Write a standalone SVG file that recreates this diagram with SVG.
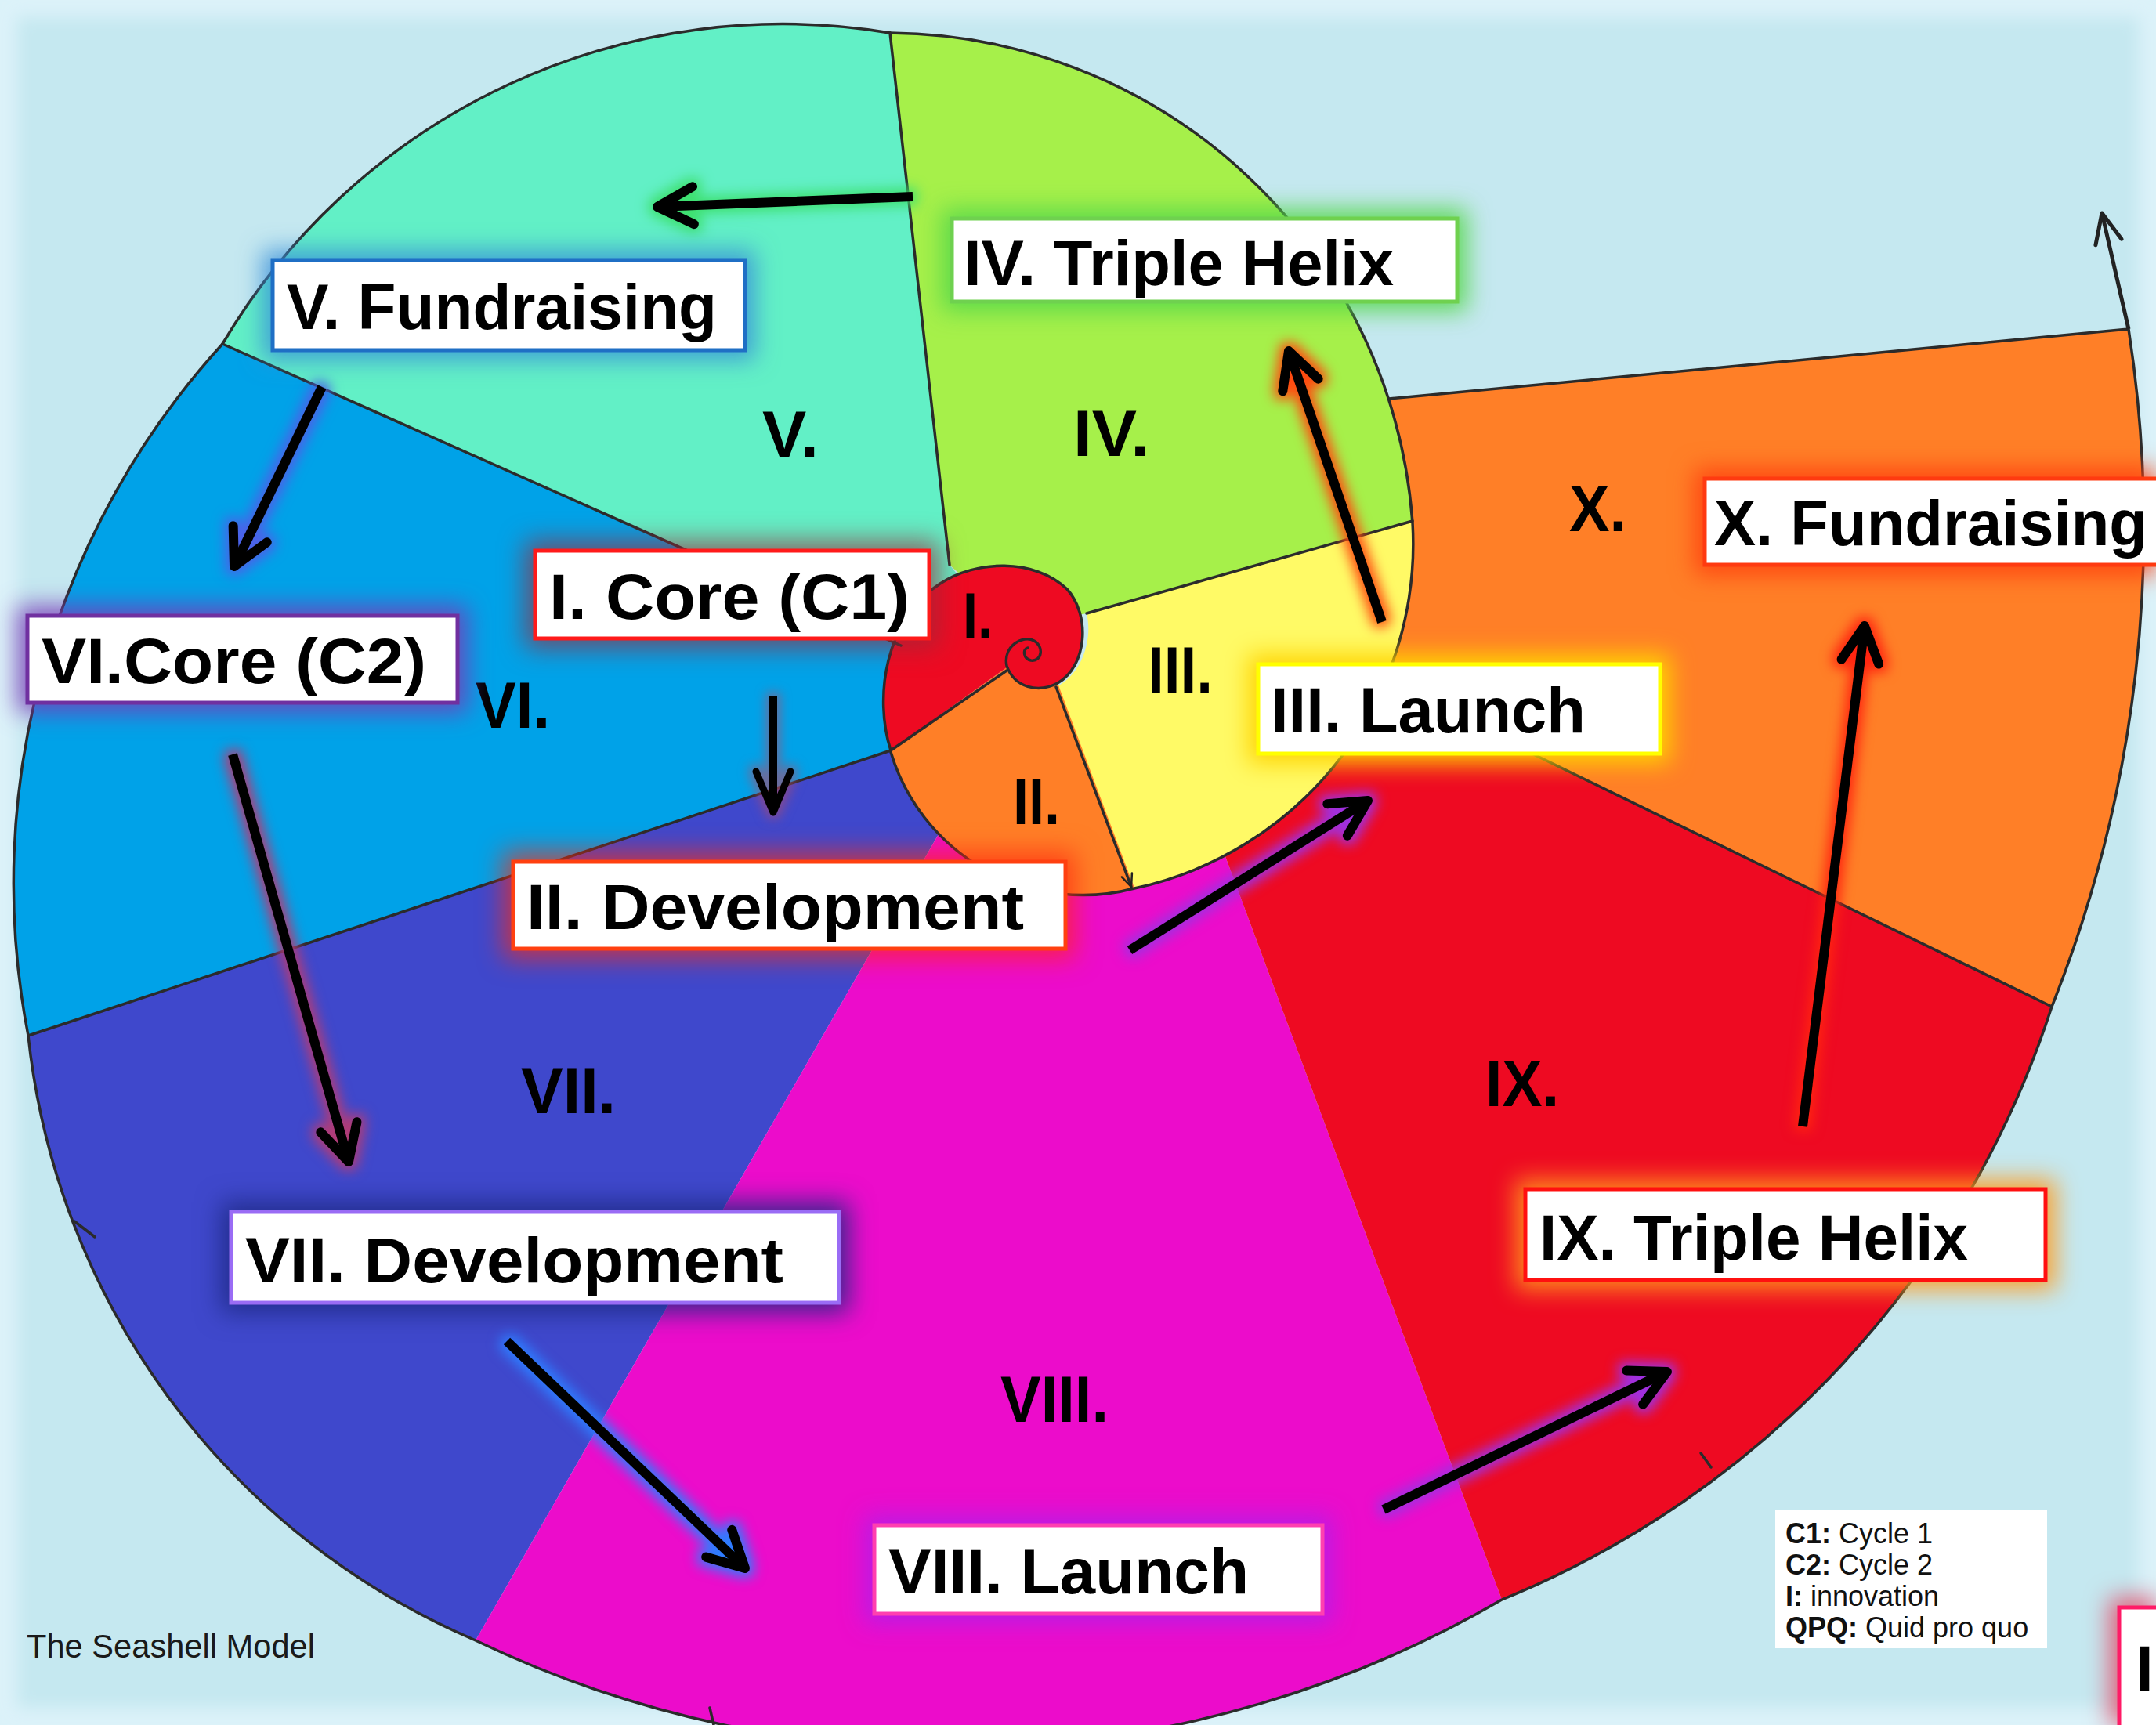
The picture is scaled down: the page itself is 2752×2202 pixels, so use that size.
<svg xmlns="http://www.w3.org/2000/svg" width="2752" height="2202" viewBox="0 0 2752 2202">
  <defs>
    <style>
      .outline{fill:none;stroke:#2b2b2b;stroke-width:3.5;stroke-linejoin:round;stroke-linecap:round}
      .box{fill:#ffffff;stroke-width:5}
      .lbl{font-family:"Liberation Sans",Arial,sans-serif;font-weight:bold;font-size:82px;fill:#000}
      .num{font-family:"Liberation Sans",Arial,sans-serif;font-weight:bold;font-size:84px;fill:#000}
      .arrow{fill:none;stroke:#000;stroke-width:12;marker-end:url(#head)}
      .arrow.narrow{stroke-width:10;marker-end:url(#headNarrow)}
      .legend{font-family:"Liberation Sans",Arial,sans-serif;font-size:36px;fill:#111}
      .legend .k{font-weight:bold}
      .caption{font-family:"Liberation Sans",Arial,sans-serif;font-size:42px;fill:#1a1a1a}
    </style>
    <marker id="head" markerUnits="userSpaceOnUse" orient="auto" overflow="visible" markerWidth="1" markerHeight="1" refX="0" refY="0">
      <path d="M -46,-24 L 0,0 L -46,24" fill="none" stroke="#000" stroke-width="12" stroke-linecap="round" stroke-linejoin="round"/>
    </marker>
    <marker id="headNarrow" markerUnits="userSpaceOnUse" orient="auto" overflow="visible" markerWidth="1" markerHeight="1" refX="0" refY="0">
      <path d="M -52,-22 L 0,0 L -52,22" fill="none" stroke="#000" stroke-width="9" stroke-linecap="round" stroke-linejoin="round"/>
    </marker>
    <marker id="headThin" markerUnits="userSpaceOnUse" orient="auto" overflow="visible" markerWidth="1" markerHeight="1" refX="0" refY="0">
      <path d="M -38,-17 L 0,0 L -38,17" fill="none" stroke="#222" stroke-width="5" stroke-linecap="round" stroke-linejoin="round"/>
    </marker>
    <marker id="headTiny" markerUnits="userSpaceOnUse" orient="auto" overflow="visible" markerWidth="1" markerHeight="1" refX="0" refY="0">
      <path d="M -16,-7 L 0,0 L -16,7" fill="none" stroke="#222" stroke-width="2.5" stroke-linecap="round"/>
    </marker>
    <filter id="soft" filterUnits="userSpaceOnUse" x="-50" y="-50" width="2852" height="2302">
      <feGaussianBlur stdDeviation="10"/>
    </filter>

    <!-- label glows -->
    <filter id="bg-green" filterUnits="userSpaceOnUse" x="0" y="0" width="2752" height="2202" color-interpolation-filters="sRGB">
      <feMorphology in="SourceAlpha" operator="dilate" radius="10" result="d"/>
      <feGaussianBlur in="d" stdDeviation="15" result="b"/>
      <feFlood flood-color="#55d84a" flood-opacity="0.9"/>
      <feComposite in2="b" operator="in" result="g"/>
      <feMerge><feMergeNode in="g"/><feMergeNode in="SourceGraphic"/></feMerge>
    </filter>
    <filter id="bg-blue" filterUnits="userSpaceOnUse" x="0" y="0" width="2752" height="2202" color-interpolation-filters="sRGB">
      <feMorphology in="SourceAlpha" operator="dilate" radius="10" result="d"/>
      <feGaussianBlur in="d" stdDeviation="15" result="b"/>
      <feFlood flood-color="#3a8fd8" flood-opacity="0.85"/>
      <feComposite in2="b" operator="in" result="g"/>
      <feMerge><feMergeNode in="g"/><feMergeNode in="SourceGraphic"/></feMerge>
    </filter>
    <filter id="bg-maroon" filterUnits="userSpaceOnUse" x="0" y="0" width="2752" height="2202" color-interpolation-filters="sRGB">
      <feMorphology in="SourceAlpha" operator="dilate" radius="10" result="d"/>
      <feGaussianBlur in="d" stdDeviation="16" result="b"/>
      <feFlood flood-color="#9a2a3a" flood-opacity="0.7"/>
      <feComposite in2="b" operator="in" result="g"/>
      <feMerge><feMergeNode in="g"/><feMergeNode in="SourceGraphic"/></feMerge>
    </filter>
    <filter id="bg-purple" filterUnits="userSpaceOnUse" x="0" y="0" width="2752" height="2202" color-interpolation-filters="sRGB">
      <feMorphology in="SourceAlpha" operator="dilate" radius="10" result="d"/>
      <feGaussianBlur in="d" stdDeviation="15" result="b"/>
      <feFlood flood-color="#7a3ab8" flood-opacity="0.85"/>
      <feComposite in2="b" operator="in" result="g"/>
      <feMerge><feMergeNode in="g"/><feMergeNode in="SourceGraphic"/></feMerge>
    </filter>
    <filter id="bg-yellow" filterUnits="userSpaceOnUse" x="0" y="0" width="2752" height="2202" color-interpolation-filters="sRGB">
      <feMorphology in="SourceAlpha" operator="dilate" radius="10" result="d"/>
      <feGaussianBlur in="d" stdDeviation="15" result="b"/>
      <feFlood flood-color="#ffd400"/>
      <feComposite in2="b" operator="in" result="g"/>
      <feMerge><feMergeNode in="g"/><feMergeNode in="SourceGraphic"/></feMerge>
    </filter>
    <filter id="bg-red" filterUnits="userSpaceOnUse" x="0" y="0" width="2752" height="2202" color-interpolation-filters="sRGB">
      <feMorphology in="SourceAlpha" operator="dilate" radius="10" result="d"/>
      <feGaussianBlur in="d" stdDeviation="16" result="b"/>
      <feFlood flood-color="#ff2a10" flood-opacity="0.7"/>
      <feComposite in2="b" operator="in" result="g"/>
      <feMerge><feMergeNode in="g"/><feMergeNode in="SourceGraphic"/></feMerge>
    </filter>
    <filter id="bg-flame" filterUnits="userSpaceOnUse" x="0" y="0" width="2752" height="2202" color-interpolation-filters="sRGB">
      <feMorphology in="SourceAlpha" operator="dilate" radius="10" result="d"/>
      <feGaussianBlur in="d" stdDeviation="15" result="b"/>
      <feFlood flood-color="#ff4010" flood-opacity="0.9"/>
      <feComposite in2="b" operator="in" result="g"/>
      <feMerge><feMergeNode in="g"/><feMergeNode in="SourceGraphic"/></feMerge>
    </filter>
    <filter id="bg-navy" filterUnits="userSpaceOnUse" x="0" y="0" width="2752" height="2202" color-interpolation-filters="sRGB">
      <feMorphology in="SourceAlpha" operator="dilate" radius="10" result="d"/>
      <feGaussianBlur in="d" stdDeviation="16" result="b"/>
      <feFlood flood-color="#1f2a86" flood-opacity="0.9"/>
      <feComposite in2="b" operator="in" result="g"/>
      <feMerge><feMergeNode in="g"/><feMergeNode in="SourceGraphic"/></feMerge>
    </filter>
    <filter id="bg-amber" filterUnits="userSpaceOnUse" x="0" y="0" width="2752" height="2202" color-interpolation-filters="sRGB">
      <feMorphology in="SourceAlpha" operator="dilate" radius="10" result="d"/>
      <feGaussianBlur in="d" stdDeviation="15" result="b"/>
      <feFlood flood-color="#ff9a1c" flood-opacity="0.9"/>
      <feComposite in2="b" operator="in" result="g"/>
      <feMerge><feMergeNode in="g"/><feMergeNode in="SourceGraphic"/></feMerge>
    </filter>
    <filter id="bg-violet" filterUnits="userSpaceOnUse" x="0" y="0" width="2752" height="2202" color-interpolation-filters="sRGB">
      <feMorphology in="SourceAlpha" operator="dilate" radius="10" result="d"/>
      <feGaussianBlur in="d" stdDeviation="15" result="b"/>
      <feFlood flood-color="#b41ee6" flood-opacity="0.9"/>
      <feComposite in2="b" operator="in" result="g"/>
      <feMerge><feMergeNode in="g"/><feMergeNode in="SourceGraphic"/></feMerge>
    </filter>
    <filter id="bg-pink" filterUnits="userSpaceOnUse" x="0" y="0" width="2752" height="2202" color-interpolation-filters="sRGB">
      <feMorphology in="SourceAlpha" operator="dilate" radius="10" result="d"/>
      <feGaussianBlur in="d" stdDeviation="15" result="b"/>
      <feFlood flood-color="#e0607a"/>
      <feComposite in2="b" operator="in" result="g"/>
      <feMerge><feMergeNode in="g"/><feMergeNode in="SourceGraphic"/></feMerge>
    </filter>

    <!-- arrow glows -->
    <filter id="ag-green" filterUnits="userSpaceOnUse" x="0" y="0" width="2752" height="2202" color-interpolation-filters="sRGB">
      <feMorphology in="SourceAlpha" operator="dilate" radius="5" result="d"/>
      <feGaussianBlur in="d" stdDeviation="8" result="b"/>
      <feFlood flood-color="#3ee070"/>
      <feComposite in2="b" operator="in" result="g"/>
      <feMerge><feMergeNode in="g"/><feMergeNode in="SourceGraphic"/></feMerge>
    </filter>
    <filter id="ag-blue" filterUnits="userSpaceOnUse" x="0" y="0" width="2752" height="2202" color-interpolation-filters="sRGB">
      <feMorphology in="SourceAlpha" operator="dilate" radius="5" result="d"/>
      <feGaussianBlur in="d" stdDeviation="8" result="b"/>
      <feFlood flood-color="#4a62e8"/>
      <feComposite in2="b" operator="in" result="g"/>
      <feMerge><feMergeNode in="g"/><feMergeNode in="SourceGraphic"/></feMerge>
    </filter>
    <filter id="ag-sky" filterUnits="userSpaceOnUse" x="0" y="0" width="2752" height="2202" color-interpolation-filters="sRGB">
      <feMorphology in="SourceAlpha" operator="dilate" radius="5" result="d"/>
      <feGaussianBlur in="d" stdDeviation="8" result="b"/>
      <feFlood flood-color="#2e7cff"/>
      <feComposite in2="b" operator="in" result="g"/>
      <feMerge><feMergeNode in="g"/><feMergeNode in="SourceGraphic"/></feMerge>
    </filter>
    <filter id="ag-purple" filterUnits="userSpaceOnUse" x="0" y="0" width="2752" height="2202" color-interpolation-filters="sRGB">
      <feMorphology in="SourceAlpha" operator="dilate" radius="5" result="d"/>
      <feGaussianBlur in="d" stdDeviation="8" result="b"/>
      <feFlood flood-color="#a030e0"/>
      <feComposite in2="b" operator="in" result="g"/>
      <feMerge><feMergeNode in="g"/><feMergeNode in="SourceGraphic"/></feMerge>
    </filter>
    <filter id="ag-orange" filterUnits="userSpaceOnUse" x="0" y="0" width="2752" height="2202" color-interpolation-filters="sRGB">
      <feMorphology in="SourceAlpha" operator="dilate" radius="5" result="d"/>
      <feGaussianBlur in="d" stdDeviation="8" result="b"/>
      <feFlood flood-color="#ff4a10"/>
      <feComposite in2="b" operator="in" result="g"/>
      <feMerge><feMergeNode in="g"/><feMergeNode in="SourceGraphic"/></feMerge>
    </filter>
    <filter id="ag-plum" filterUnits="userSpaceOnUse" x="0" y="0" width="2752" height="2202" color-interpolation-filters="sRGB">
      <feMorphology in="SourceAlpha" operator="dilate" radius="5" result="d"/>
      <feGaussianBlur in="d" stdDeviation="8" result="b"/>
      <feFlood flood-color="#b03c78"/>
      <feComposite in2="b" operator="in" result="g"/>
      <feMerge><feMergeNode in="g"/><feMergeNode in="SourceGraphic"/></feMerge>
    </filter>
    <filter id="ag-rose" filterUnits="userSpaceOnUse" x="0" y="0" width="2752" height="2202" color-interpolation-filters="sRGB">
      <feMorphology in="SourceAlpha" operator="dilate" radius="4" result="d"/>
      <feGaussianBlur in="d" stdDeviation="7" result="b"/>
      <feFlood flood-color="#b04a6a" flood-opacity="0.6"/>
      <feComposite in2="b" operator="in" result="g"/>
      <feMerge><feMergeNode in="g"/><feMergeNode in="SourceGraphic"/></feMerge>
    </filter>
    <filter id="ag-red" filterUnits="userSpaceOnUse" x="0" y="0" width="2752" height="2202" color-interpolation-filters="sRGB">
      <feMorphology in="SourceAlpha" operator="dilate" radius="5" result="d"/>
      <feGaussianBlur in="d" stdDeviation="8" result="b"/>
      <feFlood flood-color="#ff2410"/>
      <feComposite in2="b" operator="in" result="g"/>
      <feMerge><feMergeNode in="g"/><feMergeNode in="SourceGraphic"/></feMerge>
    </filter>
  </defs>

  <!-- backdrop with a soft pale frame -->
  <rect x="0" y="0" width="2752" height="2202" fill="#c5e8f0"/>
  <rect x="0" y="0" width="2752" height="2202" fill="none" stroke="#dcf2f9" stroke-width="44" filter="url(#soft)"/>

  <!-- shell chambers, painted outermost first -->
  <g id="sectors">
    <path id="sector-VI" d="M 1300,830 L 1150,824 L 284,439 A 1022 1022 0 0 0 36,1322 L 1137,958 Z" fill="#00a2e8"/>
    <path id="sector-VII" d="M 1300,900 L 1137,958 L 36,1322 A 948 948 0 0 0 607,2094 L 1195,1070 Z" fill="#3f48cc"/>
    <path id="sector-VIII" d="M 1300,900 L 1195,1070 L 607,2094 A 1400 1400 0 0 0 1917,2042 L 1561,1085 Z" fill="#ec0ccb"/>
    <path id="sector-IX" d="M 1450,950 L 1561,1085 L 1917,2042 A 1223 1223 0 0 0 2619,1285 L 1740,857 Z" fill="#ee0a22"/>
    <path id="sector-X" d="M 1740,857 L 2619,1285 A 1652 1652 0 0 0 2717,420 L 1700,516 L 1700,700 Z" fill="#ff7f27"/>
    <path id="sector-V" d="M 1300,830 L 1212,721 L 1136,42 A 830 830 0 0 0 284,439 L 1150,824 Z" fill="#62f0c6"/>
    <path id="sector-IV" d="M 1300,800 L 1212,721 L 1136,42 A 674 674 0 0 1 1803,667 L 1387,783 Z" fill="#a6f04a"/>
    <path id="sector-III" d="M 1348,877 L 1448,1134 A 450 450 0 0 0 1803,667 L 1387,783 C 1395,815 1382,860 1348,877 Z" fill="#fffa66"/>
    <path id="sector-II" d="M 1350,872 L 1285,852 L 1137,958 L 1137,960 A 256 256 0 0 0 1448,1134 Z" fill="#ff7f27"/>
    <path id="sector-I" d="M 1137,958 C 1115,890 1130,790 1200,745 C 1245,715 1320,712 1362,752 C 1392,785 1388,850 1350,872 C 1325,885 1295,878 1285,852 Z" fill="#ee0a22"/>
  </g>

  <!-- shell outline, partition lines and swirl -->
  <g id="outlines">
    <path class="outline" d="M 1136,42 A 830 830 0 0 0 284,439 A 1022 1022 0 0 0 36,1322 A 948 948 0 0 0 607,2094 A 1400 1400 0 0 0 1917,2042 A 1223 1223 0 0 0 2619,1285 A 1652 1652 0 0 0 2717,420 L 1773,509"/>
    <path class="outline" d="M 1136,42 A 674 674 0 0 1 1803,667 A 450 450 0 0 1 1448,1134 A 256 256 0 0 1 1137,960"/>
    <path class="outline" d="M 1137,958 C 1115,890 1130,790 1200,745 C 1245,715 1320,712 1362,752 C 1392,785 1388,850 1350,872 C 1325,885 1295,878 1285,850 C 1280,825 1305,810 1320,818 C 1333,825 1330,845 1316,843 C 1306,841 1305,828 1312,827"/>
    <path class="outline" d="M 1136,42 L 1212,721"/>
    <path class="outline" d="M 284,439 L 1150,824"/>
    <path class="outline" d="M 36,1322 L 1137,958 L 1285,856"/>
    <path class="outline" d="M 1387,783 L 1803,665"/>
    <path class="outline" d="M 1777,875 L 2619,1285"/>
    <path class="outline" d="M 1348,877 L 1444,1132" stroke-width="2.5" marker-end="url(#headTiny)"/>
    <path class="outline" d="M 95,1559 L 121,1579"/>
    <path class="outline" d="M 2171,1855 L 2184,1873"/>
    <path class="outline" d="M 906,2180 L 911,2202"/>
  </g>

  <!-- chamber numerals -->
  <g id="numerals">
    <text class="num" x="1229" y="815" textLength="38" lengthAdjust="spacingAndGlyphs">I.</text>
    <text class="num" x="1293" y="1052" textLength="60" lengthAdjust="spacingAndGlyphs">II.</text>
    <text class="num" x="1465" y="884" textLength="83" lengthAdjust="spacingAndGlyphs">III.</text>
    <text class="num" x="1370" y="582" textLength="97" lengthAdjust="spacingAndGlyphs">IV.</text>
    <text class="num" x="973" y="583" textLength="72" lengthAdjust="spacingAndGlyphs">V.</text>
    <text class="num" x="607" y="929" textLength="95" lengthAdjust="spacingAndGlyphs">VI.</text>
    <text class="num" x="665" y="1421" textLength="121" lengthAdjust="spacingAndGlyphs">VII.</text>
    <text class="num" x="1277" y="1815" textLength="138" lengthAdjust="spacingAndGlyphs">VIII.</text>
    <text class="num" x="1896" y="1412" textLength="94" lengthAdjust="spacingAndGlyphs">IX.</text>
    <text class="num" x="2003" y="678" textLength="73" lengthAdjust="spacingAndGlyphs">X.</text>
  </g>

  <!-- stage connectors -->
  <g id="connectors">
    <path class="arrow" d="M 1165,251 L 839,264" filter="url(#ag-green)"/>
    <path class="arrow" d="M 411,494 L 299,723" filter="url(#ag-blue)"/>
    <path class="arrow narrow" d="M 987,888 L 987,1037" filter="url(#ag-rose)"/>
    <path class="arrow" d="M 1442,1213 L 1746,1022" filter="url(#ag-purple)"/>
    <path class="arrow" d="M 1764,794 L 1645,448" filter="url(#ag-orange)"/>
    <path class="arrow" d="M 297,963 L 445,1483" filter="url(#ag-plum)"/>
    <path class="arrow" d="M 647,1712 L 951,2002" filter="url(#ag-sky)"/>
    <path class="arrow" d="M 1766,1927 L 2128,1751" filter="url(#ag-purple)"/>
    <path class="arrow" d="M 2301,1438 L 2380,799" filter="url(#ag-red)"/>
    <path d="M 2717,420 L 2683,272" fill="none" stroke="#222" stroke-width="5" marker-end="url(#headThin)"/>
  </g>

  <!-- stage labels -->
  <g id="label-IV">
    <rect class="box" x="1215" y="279" width="645" height="106" stroke="#6fd14f" filter="url(#bg-green)"/>
    <text class="lbl" x="1230" y="364" textLength="549" lengthAdjust="spacingAndGlyphs">IV. Triple Helix</text>
  </g>
  <g id="label-V">
    <rect class="box" x="348" y="332" width="603" height="115" stroke="#1f6fc5" filter="url(#bg-blue)"/>
    <text class="lbl" x="366" y="420" textLength="549" lengthAdjust="spacingAndGlyphs">V. Fundraising</text>
  </g>
  <g id="label-I">
    <rect class="box" x="683" y="703" width="503" height="112" stroke="#ff1a1a" filter="url(#bg-maroon)"/>
    <text class="lbl" x="701" y="790" textLength="460" lengthAdjust="spacingAndGlyphs">I. Core (C1)</text>
  </g>
  <g id="label-VI">
    <rect class="box" x="35" y="786" width="549" height="111" stroke="#7030a0" filter="url(#bg-purple)"/>
    <text class="lbl" x="53" y="872" textLength="491" lengthAdjust="spacingAndGlyphs">VI.Core (C2)</text>
  </g>
  <g id="label-III">
    <rect class="box" x="1606" y="848" width="513" height="114" stroke="#ffff00" stroke-width="7" filter="url(#bg-yellow)"/>
    <text class="lbl" x="1622" y="935" textLength="402" lengthAdjust="spacingAndGlyphs">III. Launch</text>
  </g>
  <g id="label-II">
    <rect class="box" x="655" y="1100" width="705" height="111" stroke="#ff4010" filter="url(#bg-red)"/>
    <text class="lbl" x="672" y="1186" textLength="635" lengthAdjust="spacingAndGlyphs">II. Development</text>
  </g>
  <g id="label-X">
    <rect class="box" x="2176" y="611" width="610" height="110" stroke="#ff3a10" filter="url(#bg-flame)"/>
    <text class="lbl" x="2188" y="696" textLength="553" lengthAdjust="spacingAndGlyphs">X. Fundraising</text>
  </g>
  <g id="label-VII">
    <rect class="box" x="295" y="1547" width="776" height="116" stroke="#9a6cf5" filter="url(#bg-navy)"/>
    <text class="lbl" x="313" y="1637" textLength="687" lengthAdjust="spacingAndGlyphs">VII. Development</text>
  </g>
  <g id="label-IX">
    <rect class="box" x="1947" y="1518" width="664" height="116" stroke="#ff1010" filter="url(#bg-amber)"/>
    <text class="lbl" x="1965" y="1608" textLength="547" lengthAdjust="spacingAndGlyphs">IX. Triple Helix</text>
  </g>
  <g id="label-VIII">
    <rect class="box" x="1116" y="1947" width="572" height="113" stroke="#ff40b0" filter="url(#bg-violet)"/>
    <text class="lbl" x="1134" y="2034" textLength="460" lengthAdjust="spacingAndGlyphs">VIII. Launch</text>
  </g>
  <g id="label-corner">
    <rect class="box" x="2705" y="2052" width="120" height="200" stroke="#ff1a66" stroke-width="9" filter="url(#bg-pink)"/>
    <text class="lbl" x="2726" y="2158" font-size="95">I</text>
  </g>

  <!-- key -->
  <g id="legend">
    <rect x="2266" y="1928" width="347" height="176" fill="#ffffff"/>
    <text class="legend" x="2279" y="1970"><tspan class="k">C1:</tspan> Cycle 1</text>
    <text class="legend" x="2279" y="2010"><tspan class="k">C2:</tspan> Cycle 2</text>
    <text class="legend" x="2279" y="2050"><tspan class="k">I:</tspan> innovation</text>
    <text class="legend" x="2279" y="2090"><tspan class="k">QPQ:</tspan> Quid pro quo</text>
  </g>

  <text id="caption" class="caption" x="34" y="2116" textLength="368" lengthAdjust="spacingAndGlyphs">The Seashell Model</text>
</svg>
